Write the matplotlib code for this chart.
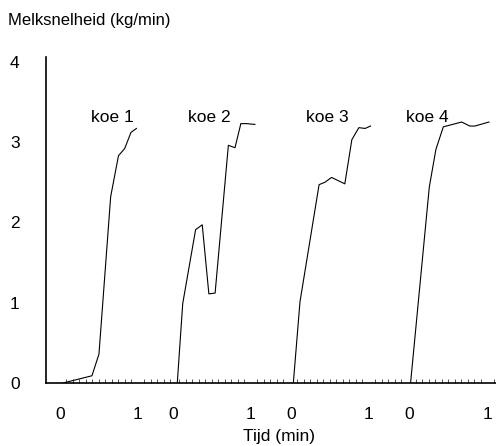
import matplotlib
matplotlib.use("Agg")
import matplotlib.pyplot as plt
import numpy as np

plt.rcParams['font.family'] = ['Liberation Sans', 'DejaVu Sans']

# Panel start positions (minutes on the shared axis) for each cow
cows = ["koe 1", "koe 2", "koe 3", "koe 4"]
offsets = [0.179, 1.628, 3.141, 4.654]

# Time (min) relative to panel start, and milk flow (kg/min)
t1 = [0.04, 0.41, 0.50, 0.65, 0.75, 0.83, 0.91, 0.98]
y1 = [0.00, 0.09, 0.36, 2.32, 2.83, 2.92, 3.12, 3.17]

t2 = [0.055, 0.125, 0.29, 0.375, 0.46, 0.54, 0.71, 0.795, 0.87, 0.945, 1.05]
y2 = [0.00, 0.99, 1.91, 1.97, 1.11, 1.12, 2.96, 2.93, 3.23, 3.23, 3.22]

t3 = [0.03, 0.115, 0.36, 0.435, 0.52, 0.69, 0.78, 0.87, 0.95, 1.02]
y3 = [0.00, 1.01, 2.47, 2.50, 2.56, 2.48, 3.03, 3.18, 3.17, 3.20]

t4 = [0.02, 0.26, 0.345, 0.44, 0.675, 0.78, 0.845, 1.025]
y4 = [0.00, 2.44, 2.91, 3.19, 3.25, 3.20, 3.20, 3.25]

times = [t1, t2, t3, t4]
flows = [y1, y2, y3, y4]
label_pos = [(0.67, 3.31), (0.47, 3.31), (0.46, 3.31), (0.23, 3.31)]

x_ticklabels = ["0", "1"]
y_ticks = [0, 1, 2, 3, 4]

fig = plt.figure(figsize=(4.96, 4.46), dpi=100)
ax = fig.add_axes([46/496, 1 - 383/446, 450/496, 326/446])

for off, t, y, name, lp in zip(offsets, times, flows, cows, label_pos):
    ax.plot(np.array(t) + off, y, color='black', lw=0.8)
    ax.text(off + lp[0], lp[1], name, ha='center', va='center', fontsize=12.5)

major = []
labels = []
for off in offsets:
    for i, lab in enumerate(x_ticklabels):
        major.append(off + i)
        labels.append(lab)
ax.set_xticks(major)
ax.set_xticklabels(labels, fontsize=12.5)
minor = []
for off in offsets:
    minor.extend(off + np.arange(0, 18) / 12)
ax.set_xticks(minor, minor=True)
ax.tick_params(axis='x', which='major', length=0, pad=17)
ax.tick_params(axis='x', which='minor', direction='in', length=3, width=0.6, color='#333333')

ax.set_yticks(y_ticks)
ax.set_yticklabels([str(v) for v in y_ticks], fontsize=12.5)
ax.tick_params(axis='y', which='major', length=0, pad=19)

ax.set_xlim(0, 450/78)
ax.set_ylim(0, 326/80.3)

for s in ['top', 'right']:
    ax.spines[s].set_visible(False)
ax.spines['left'].set_linewidth(1.2)
ax.spines['bottom'].set_linewidth(1.2)

ax.set_xlabel("Tijd (min)", fontsize=12.5)
ax.xaxis.set_label_coords((279 - 46) / 450, (383 - 429) / 326)
fig.text(8/496, 1 - 20/446, "Melksnelheid (kg/min)", fontsize=12, ha='left', va='center')

fig.savefig("out.png", dpi=100)
